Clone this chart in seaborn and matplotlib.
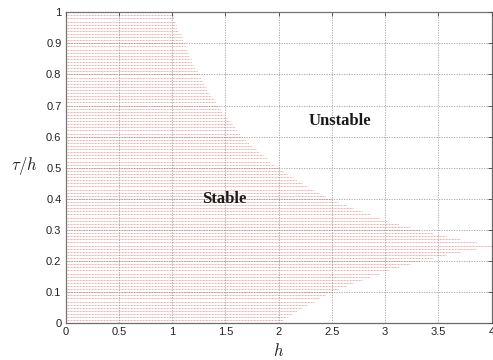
import matplotlib
matplotlib.use("Agg")
import matplotlib.pyplot as plt
from matplotlib.ticker import FuncFormatter
import numpy as np
import pandas as pd
import seaborn as sns

# Delay ratio tau/h sampled on a 0.01 grid (one hatch line per sample)
tau_ratio = [i / 100 for i in range(101)]

# Largest stable step h for each tau/h sample
h_max = [
    2.00, 2.04, 2.08, 2.13, 2.17, 2.22, 2.27, 2.33, 2.38, 2.44,
    2.50, 2.56, 2.63, 2.70, 2.78, 2.86, 2.94, 3.03, 3.13, 3.23,
    3.33, 3.45, 3.57, 3.70, 3.85, 4.00, 3.85, 3.70, 3.57, 3.45,
    3.33, 3.23, 3.13, 3.03, 2.94, 2.86, 2.78, 2.70, 2.63, 2.56,
    2.50, 2.44, 2.38, 2.33, 2.27, 2.22, 2.17, 2.13, 2.08, 2.04,
    2.00, 1.96, 1.92, 1.89, 1.85, 1.82, 1.79, 1.75, 1.72, 1.69,
    1.67, 1.64, 1.61, 1.59, 1.56, 1.54, 1.52, 1.49, 1.47, 1.45,
    1.43, 1.41, 1.39, 1.37, 1.35, 1.33, 1.32, 1.30, 1.28, 1.27,
    1.25, 1.23, 1.22, 1.20, 1.19, 1.18, 1.16, 1.15, 1.14, 1.12,
    1.11, 1.10, 1.09, 1.08, 1.06, 1.05, 1.04, 1.03, 1.02, 1.01,
    1.00,
]

x_ticks = [0, 0.5, 1, 1.5, 2, 2.5, 3, 3.5, 4]
y_ticks = [0, 0.1, 0.2, 0.3, 0.4, 0.5, 0.6, 0.7, 0.8, 0.9, 1]

region_labels = ["Stable", "Unstable"]
region_pos = [(1.49, 0.40), (2.58, 0.65)]

# Each hatch line runs from h = 0 to the stability limit
rows = []
for k, (t, hm) in enumerate(zip(tau_ratio, h_max)):
    rows.append({"line": k, "h": 0.0, "tau": t})
    rows.append({"line": k, "h": hm, "tau": t})
df = pd.DataFrame(rows)

sns.set_theme(style="white")
plt.rcParams["font.family"] = ["Liberation Sans", "DejaVu Sans"]
plt.rcParams["mathtext.fontset"] = "cm"

fig = plt.figure(figsize=(4.93, 3.60), dpi=100)
ax = fig.add_axes([0.133, 0.102, 0.864, 0.864])

sns.lineplot(
    data=df, x="h", y="tau", units="line", estimator=None, sort=False,
    color="#e07070", linewidth=0.6, linestyle=(0, (1.0, 0.8)), alpha=0.75,
    legend=False, ax=ax,
)

ax.set_xlim(0, 4)
ax.set_ylim(0, 1)
ax.set_xticks(x_ticks)
ax.set_yticks(y_ticks)
fmt = FuncFormatter(lambda v, _: f"{v:g}")
ax.xaxis.set_major_formatter(fmt)
ax.yaxis.set_major_formatter(fmt)

ax.grid(True, color="#8a8a8a", linestyle=(0, (1.5, 1.5)), linewidth=0.6, alpha=0.8)
ax.set_axisbelow(False)

for sp in ax.spines.values():
    sp.set_color("#6a6a6a")
    sp.set_linewidth(0.9)

ax.tick_params(direction="in", top=True, right=True, length=3, width=0.7,
               colors="#555555", labelsize=8, labelcolor="#222222", pad=3)

ax.set_xlabel(r"$h$", fontsize=12, color="#222222")
ax.set_ylabel(r"$\tau/h$", fontsize=12, rotation=0, color="#222222")
ax.xaxis.set_label_coords(0.5, -0.06)
ax.yaxis.set_label_coords(-0.096, 0.47)

for txt, (xp, yp) in zip(region_labels, region_pos):
    ax.text(xp, yp, txt, ha="center", va="center", fontsize=12,
            fontweight="bold", family=["Liberation Serif", "DejaVu Serif"],
            color="#1a1a1a")

fig.savefig("out.png", dpi=100)
